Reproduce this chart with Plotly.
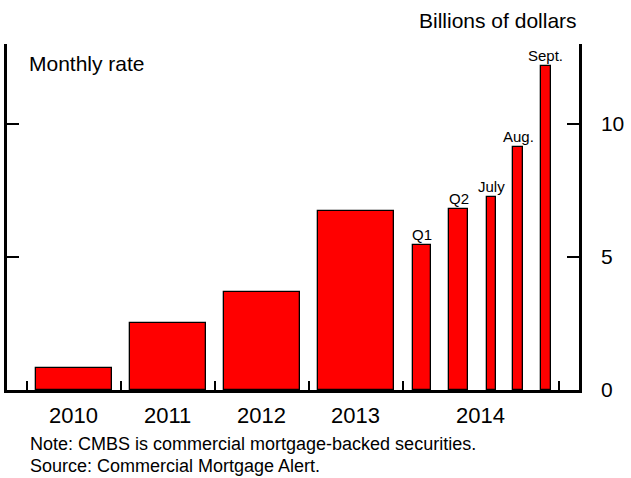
import plotly.graph_objects as go

# CMBS issuance, billions of dollars (monthly rate)
categories = ["2010", "2011", "2012", "2013", "Q1", "Q2", "July", "Aug.", "Sept."]
values = [0.83, 2.52, 3.68, 6.72, 5.46, 6.80, 7.27, 9.12, 12.17]
year_labels = ["2010", "2011", "2012", "2013", "2014"]
y_ticks = [0, 5, 10]

# Horizontal layout: one unit per year, 2014 stretched to hold its sub-periods
bar_x = [0.5, 1.5, 2.5, 3.5, 4.205, 4.595, 4.942, 5.226, 5.521]
bar_w = [0.81, 0.81, 0.81, 0.81, 0.20, 0.20, 0.10, 0.10, 0.10]
year_pos = [0.5, 1.5, 2.5, 3.5, 4.83]
boundaries = [0, 1, 2, 3, 4, 5.663]
labelled = categories[4:]

FONT = "Liberation Sans, Arial, sans-serif"

fig = go.Figure()
fig.add_trace(go.Bar(
    x=bar_x, y=values, width=bar_w,
    marker=dict(color="#ff0000", line=dict(color="black", width=1.3)),
    hoverinfo="skip", showlegend=False,
))
# invisible trace to carry the right-hand axis
fig.add_trace(go.Scatter(x=[0], y=[0], yaxis="y2", mode="markers",
                         marker=dict(opacity=0), hoverinfo="skip", showlegend=False))

annotations = []
for name, xv, yv in zip(categories, bar_x, values):
    if name in labelled:
        annotations.append(dict(x=xv, y=yv, xref="x", yref="y", text=name,
                                showarrow=False, yanchor="bottom", yshift=0,
                                font=dict(size=15, family=FONT, color="black")))
for lab, xv in zip(year_labels, year_pos):
    annotations.append(dict(x=xv, y=-25 / 346, xref="x", yref="paper", text=lab,
                            showarrow=False, yanchor="middle",
                            font=dict(size=22, family=FONT, color="black")))
annotations += [
    dict(x=20 / 578, y=(390 - 64) / 346, xref="paper", yref="paper", text="Monthly rate",
         showarrow=False, xanchor="left", yanchor="middle",
         font=dict(size=21, family=FONT, color="black")),
    dict(x=1.0, y=1 + 24 / 346, xref="paper", yref="paper", text="Billions of dollars",
         showarrow=False, xanchor="right", yanchor="middle",
         font=dict(size=21, family=FONT, color="black")),
    dict(x=21 / 578, y=-54 / 346, xref="paper", yref="paper",
         text="Note: CMBS is commercial mortgage-backed securities.",
         showarrow=False, xanchor="left", yanchor="middle",
         font=dict(size=18, family=FONT, color="black")),
    dict(x=21 / 578, y=-76 / 346, xref="paper", yref="paper",
         text="Source: Commercial Mortgage Alert.",
         showarrow=False, xanchor="left", yanchor="middle",
         font=dict(size=18, family=FONT, color="black")),
]

yaxis_common = dict(
    range=[0, 13], showgrid=False, zeroline=False,
    showline=True, linecolor="black", linewidth=2.5,
    tickmode="array", tickvals=y_ticks, ticks="inside", ticklen=12,
    tickwidth=2, tickcolor="black",
    minor=dict(tickmode="array", tickvals=[13], ticks="inside", ticklen=22,
               tickwidth=2, tickcolor="black"),
    fixedrange=True,
)

fig.update_layout(
    width=631, height=478,
    margin=dict(l=7, r=46, t=44, b=88),
    paper_bgcolor="white", plot_bgcolor="white",
    bargap=0,
    xaxis=dict(range=[-0.21, 5.874], showgrid=False, zeroline=False,
               showline=True, linecolor="black", linewidth=3,
               tickmode="array", tickvals=boundaries, ticks="inside", ticklen=9,
               tickwidth=2, tickcolor="black", showticklabels=False,
               fixedrange=True),
    yaxis=dict(**yaxis_common, side="left", showticklabels=False),
    yaxis2=dict(**yaxis_common, side="right", overlaying="y", showticklabels=True,
                ticklabelstandoff=15,
                tickfont=dict(size=21, family=FONT, color="black")),
    annotations=annotations,
)

fig.write_html("out.html")
